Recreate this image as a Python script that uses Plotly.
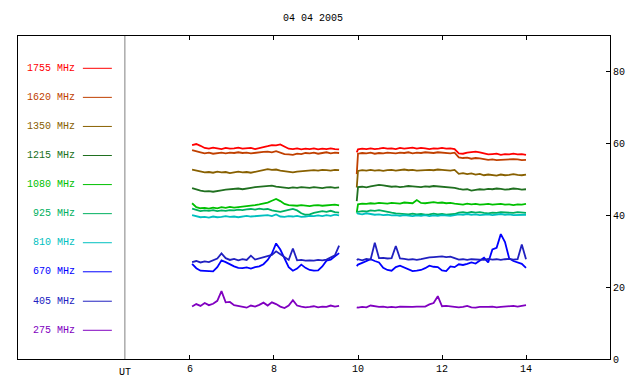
import plotly.graph_objects as go

# ---------------- data ----------------
title_text = "04 04 2005"
labels = ["1755 MHz", "1620 MHz", "1350 MHz", "1215 MHz", "1080 MHz",
          "925 MHz", "810 MHz", "670 MHz", "405 MHz", "275 MHz"]
colors = ["#ff0000", "#c04000", "#886000", "#207020", "#00c000",
          "#00b060", "#00c0c0", "#0000ff", "#2020c0", "#8000c0"]
x_ticks = [6, 8, 10, 12, 14]
y_ticks = [0, 20, 40, 60, 80]

t_a = [6.05, 6.15, 6.25, 6.35, 6.45, 6.55, 6.65, 6.75, 6.85, 6.95, 7.05, 7.15,
       7.25, 7.35, 7.45, 7.55, 7.65, 7.75, 7.85, 7.95, 8.05, 8.15, 8.25, 8.35,
       8.45, 8.55, 8.65, 8.75, 8.85, 8.95, 9.05, 9.15, 9.25, 9.35, 9.45, 9.55]
t_b = [9.97, 10.0, 10.1, 10.2, 10.3, 10.4, 10.5, 10.6, 10.7, 10.8, 10.9, 11.0,
       11.1, 11.2, 11.3, 11.4, 11.5, 11.6, 11.7, 11.8, 11.9, 12.0, 12.1, 12.2,
       12.3, 12.4, 12.5, 12.6, 12.7, 12.8, 12.9, 13.0, 13.1, 13.2, 13.3, 13.4,
       13.5, 13.6, 13.7, 13.8, 13.9, 14.0]

f1755_a = [59.6, 59.9, 59.4, 58.8, 58.6, 58.9, 58.7, 58.5, 58.8, 58.6, 58.7, 58.9,
           58.6, 58.7, 58.8, 58.5, 58.7, 58.9, 59.3, 59.6, 59.5, 59.8, 59.2, 58.6,
           58.5, 58.7, 58.4, 58.6, 58.5, 58.7, 58.4, 58.6, 58.5, 58.7, 58.5, 58.4]
f1755_b = [57.6, 58.4, 58.6, 58.5, 58.7, 58.5, 58.6, 58.8, 58.6, 58.7, 58.5, 58.8,
           58.6, 58.7, 58.9, 58.6, 58.8, 58.7, 58.5, 58.7, 58.6, 58.8, 58.6, 58.7,
           58.5, 57.3, 57.2, 57.5, 57.7, 57.8, 57.6, 57.2, 57.0, 57.1, 57.2, 56.9,
           57.1, 57.0, 57.2, 57.0, 57.1, 56.9]

f1620_a = [58.2, 57.8, 57.6, 57.3, 57.5, 57.2, 57.4, 57.5, 57.3, 57.5, 57.4, 57.6,
           57.4, 57.5, 57.3, 57.5, 57.6, 57.7, 57.8, 57.6, 57.9, 57.5, 57.1, 57.0,
           56.9, 57.2, 57.1, 57.4, 57.3, 57.5, 57.2, 57.4, 57.6, 57.3, 57.5, 57.4]
f1620_b = [51.5, 57.2, 57.4, 57.3, 57.5, 57.2, 57.4, 57.3, 57.5, 57.4, 57.3, 57.5,
           57.4, 57.6, 57.3, 57.5, 57.4, 57.6, 57.5, 57.4, 57.6, 57.5, 57.4, 57.3,
           57.5, 56.2, 56.0, 56.1, 55.8, 56.0, 55.9, 55.7, 55.5, 55.6, 55.4, 55.5,
           55.6, 55.5, 55.7, 55.6, 55.4, 55.5]

f1350_a = [52.8, 52.6, 52.3, 52.0, 52.1, 51.9, 52.2, 52.0, 52.1, 51.8, 52.0, 52.2,
           52.0, 52.1, 51.9, 52.2, 52.4, 52.6, 52.9, 52.7, 52.8, 52.5, 52.3, 52.1,
           52.0, 52.2, 52.3, 52.5, 52.4, 52.6, 52.5, 52.7, 52.6, 52.5, 52.7, 52.6]
f1350_b = [47.8, 52.4, 52.6, 52.5, 52.7, 52.5, 52.6, 52.4, 52.6, 52.7, 52.5, 52.6,
           52.8, 52.6, 52.7, 52.5, 52.6, 52.8, 52.7, 52.6, 52.8, 52.7, 52.6, 52.5,
           52.7, 51.6, 51.8, 51.5, 51.7, 51.4, 51.6, 51.2, 51.4, 51.3, 51.1, 51.4,
           51.2, 51.3, 51.5, 51.3, 51.2, 51.4]

f1215_a = [47.6, 47.2, 46.9, 46.7, 46.8, 46.6, 46.9, 47.0, 47.2, 47.3, 47.4, 47.5,
           47.3, 47.6, 47.7, 47.9, 48.0, 48.2, 48.1, 48.3, 48.0, 47.8, 47.7, 47.6,
           47.8, 47.7, 47.9, 47.8, 47.7, 47.9, 47.8, 47.6, 47.8, 47.9, 47.7, 47.8]
f1215_b = [44.0, 47.9, 48.0, 47.8, 48.1, 48.3, 48.5, 48.4, 48.2, 48.0, 48.1, 47.9,
           48.0, 48.2, 48.1, 48.0, 47.9, 48.1, 48.0, 48.2, 48.1, 47.9, 48.0, 47.9,
           47.7, 47.4, 47.2, 47.3, 46.9, 47.1, 47.3, 47.2, 47.4, 47.3, 47.5, 47.4,
           47.2, 47.3, 47.5, 47.4, 47.2, 47.3]

f1080_a = [43.4, 42.3, 42.0, 42.1, 41.9, 42.2, 42.0, 42.3, 42.1, 42.4, 42.2, 42.3,
           42.6, 42.5, 42.8, 42.9, 43.1, 43.3, 43.6, 44.1, 44.6, 44.0, 43.2, 42.9,
           42.8, 42.7, 42.9, 42.8, 42.6, 42.8, 42.9, 42.7, 42.8, 42.9, 43.0, 42.8]
f1080_b = [40.8, 43.1, 43.3, 43.2, 43.4, 43.3, 43.5, 43.4, 43.3, 43.5, 43.4, 43.3,
           43.6, 43.5, 43.4, 44.3, 43.5, 43.4, 43.6, 43.7, 43.5, 43.6, 43.4, 43.5,
           43.3, 43.2, 43.0, 43.3, 43.1, 43.2, 43.0, 43.1, 43.2, 43.0, 43.1, 43.2,
           43.0, 43.1, 42.9, 43.1, 43.0, 43.2]

f925_a = [41.9, 41.5, 41.2, 41.4, 41.3, 41.5, 41.2, 41.4, 41.3, 41.5, 41.4, 41.6,
          41.5, 41.7, 41.8, 41.6, 41.9, 41.7, 41.8, 41.4, 41.2, 41.0, 41.3, 41.6,
          41.8, 41.4, 40.6, 40.2, 40.3, 40.7, 40.9, 41.2, 41.0, 41.3, 40.9, 40.8]
f925_b = [41.2, 41.0, 41.2, 41.1, 41.4, 41.3, 41.5, 41.2, 41.0, 40.8, 40.6, 40.5,
          40.4, 40.3, 40.5, 40.3, 40.4, 40.2, 40.3, 40.5, 40.3, 40.4, 40.2, 40.3,
          40.4, 40.8, 40.9, 40.7, 41.0, 40.8, 40.9, 40.7, 40.6, 40.8, 40.7, 40.9,
          40.8, 40.6, 40.7, 40.9, 40.8, 40.7]

f810_a = [40.1, 39.7, 39.5, 39.6, 39.4, 39.7, 39.5, 39.6, 39.8, 39.6, 39.7, 39.5,
          39.8, 39.9, 39.7, 39.8, 40.0, 39.9, 40.1, 39.8, 40.3, 39.7, 39.6, 39.8,
          39.7, 39.9, 39.6, 39.7, 39.9, 39.8, 40.0, 39.8, 40.1, 39.9, 40.2, 40.0]
f810_b = [40.7, 40.5, 40.3, 40.6, 40.4, 40.2, 40.3, 40.1, 40.2, 40.0, 40.1, 39.9,
          40.1, 40.0, 39.8, 40.0, 39.9, 40.1, 39.8, 40.0, 39.9, 40.1, 40.0, 39.9,
          40.1, 40.3, 40.2, 40.4, 40.2, 40.3, 40.1, 40.2, 40.3, 40.1, 40.2, 40.4,
          40.2, 40.3, 40.1, 40.2, 40.3, 40.2]

f670_a = [26.5, 25.3, 24.6, 24.5, 24.6, 24.4, 25.6, 27.5, 27.0, 26.3, 25.8, 25.4,
          25.3, 25.5, 25.2, 25.6, 25.8, 26.4, 27.6, 29.4, 32.2, 30.5, 28.0, 25.6,
          24.6, 25.2, 26.3, 25.4, 24.8, 24.6, 24.7, 25.8, 27.4, 27.7, 28.6, 29.5]
f670_b = [25.9, 26.3, 26.8, 27.4, 27.8, 27.3, 26.9, 25.4, 24.8, 24.6, 25.6, 26.0,
          25.5, 24.9, 24.5, 24.6, 24.8, 25.3, 26.0, 25.7, 25.6, 24.7, 24.5, 25.8,
          25.6, 26.4, 26.2, 26.5, 26.9, 26.6, 27.4, 28.2, 26.9, 30.5, 31.0, 34.8,
          32.6, 28.0, 27.3, 26.8, 26.5, 25.4]

f405_a = [27.0, 27.3, 26.9, 27.2, 27.0, 27.4, 28.0, 29.4, 28.1, 27.6, 27.9, 27.5,
          27.8, 27.6, 28.8, 27.7, 28.0, 28.4, 28.8, 29.0, 30.0, 29.2, 28.2, 27.6,
          30.8, 27.5, 27.6, 27.4, 27.5, 27.4, 27.6, 27.5, 27.7, 28.3, 28.9, 31.6]
f405_b = [27.6, 27.8, 27.5, 27.9, 27.7, 32.4, 28.1, 28.2, 28.0, 28.1, 31.5, 28.0,
          27.9, 27.7, 27.8, 27.6, 27.8, 28.1, 28.3, 28.4, 28.5, 28.6, 28.4, 28.5,
          28.1, 27.7, 27.8, 27.6, 27.8, 27.7, 27.8, 27.6, 27.9, 27.7, 27.8, 27.6,
          27.8, 27.9, 27.7, 27.8, 31.9, 27.8]

f275_a = [14.6, 15.3, 14.8, 15.6, 15.0, 15.4, 16.2, 18.9, 15.8, 15.9, 15.0, 14.8,
          14.7, 14.3, 14.9, 14.6, 15.1, 15.7, 14.9, 15.8, 15.3, 14.6, 14.2, 14.9,
          16.4, 14.9, 14.6, 14.4, 14.5, 14.7, 14.4, 14.6, 14.5, 14.9, 14.6, 14.8]
f275_b = [14.4, 14.3, 14.5, 14.4, 14.9, 14.6, 14.5, 14.6, 14.4, 14.5, 14.4, 14.6,
          14.5, 14.4, 14.5, 14.6, 14.7, 14.6, 15.2, 15.6, 17.5, 14.7, 14.8, 14.6,
          14.5, 14.4, 14.5, 14.8, 14.4, 14.3, 14.5, 14.4, 14.5, 14.6, 14.4, 14.5,
          14.6, 14.7, 14.8, 14.6, 14.7, 15.0]

series_a = [f1755_a, f1620_a, f1350_a, f1215_a, f1080_a, f925_a, f810_a, f670_a, f405_a, f275_a]
series_b = [f1755_b, f1620_b, f1350_b, f1215_b, f1080_b, f925_b, f810_b, f670_b, f405_b, f275_b]

# legend row values (in y-axis units) and UT marker hour
legend_y = [81.0, 72.9, 64.8, 56.7, 48.6, 40.5, 32.4, 24.3, 16.1, 8.0]
ut_hour = 4.45

# ---------------- figure ----------------
FONT = "Liberation Mono"
fig = go.Figure()

for lab, col, ya, yb in zip(labels, colors, series_a, series_b):
    assert len(ya) == len(t_a) and len(yb) == len(t_b), lab
    fig.add_trace(go.Scatter(
        x=t_a + [None] + t_b, y=ya + [None] + yb, mode="lines",
        line=dict(color=col, width=1.8), name=lab, showlegend=False,
        connectgaps=False, hoverinfo="skip"))

shapes = []
annotations = []
for lab, col, ly in zip(labels, colors, legend_y):
    shapes.append(dict(type="line", xref="x", yref="y", x0=3.45, x1=4.14,
                       y0=ly, y1=ly, line=dict(color=col, width=1)))
    annotations.append(dict(x=3.32, y=ly, xref="x", yref="y", text=lab,
                            showarrow=False, xanchor="right", yanchor="middle",
                            font=dict(family=FONT, size=10, color=col)))

shapes.append(dict(type="line", xref="x", yref="paper", x0=ut_hour, x1=ut_hour,
                   y0=0, y1=1, line=dict(color="#808080", width=1)))
annotations.append(dict(x=ut_hour, y=0, xref="x", yref="paper", text="UT",
                        showarrow=False, xanchor="center", yanchor="top", yshift=-6,
                        font=dict(family=FONT, size=10, color="black")))
annotations.append(dict(x=0.498, y=1, xref="paper", yref="paper", text=title_text,
                        showarrow=False, xanchor="center", yanchor="middle", yshift=18,
                        font=dict(family=FONT, size=10, color="black")))

fig.update_layout(
    width=640, height=384, autosize=False,
    margin=dict(l=18, r=30, t=36, b=25, autoexpand=False),
    paper_bgcolor="white", plot_bgcolor="white",
    font=dict(family=FONT, size=10, color="black"),
    shapes=shapes, annotations=annotations, showlegend=False,
)
fig.update_xaxes(range=[1.905, 16], tickvals=x_ticks, ticktext=[str(v) for v in x_ticks],
                 showgrid=False, zeroline=False, showline=True, linecolor="black",
                 linewidth=1, mirror="ticks", ticks="inside", ticklen=4,
                 tickcolor="black", automargin=False,
                 tickfont=dict(family=FONT, size=10, color="black"))
fig.update_yaxes(range=[0, 90], side="right", tickvals=y_ticks,
                 showgrid=False, zeroline=False, showline=True, linecolor="black",
                 linewidth=1, mirror=True, ticks="inside", ticklen=4,
                 tickcolor="black", automargin=False,
                 tickfont=dict(family=FONT, size=10, color="black"))

fig.write_html("out.html", config={"displayModeBar": False},
               post_script="document.body.style.margin='0';document.body.style.overflow='hidden';")
